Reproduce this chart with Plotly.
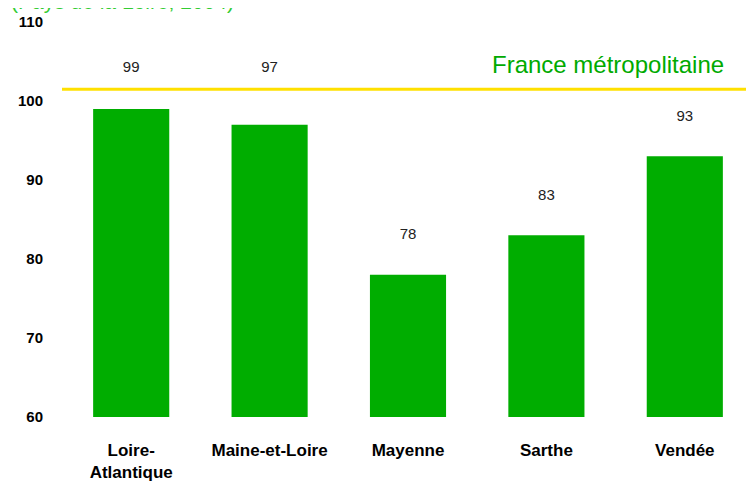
import plotly.graph_objects as go

categories = ["Loire-<br>Atlantique", "Maine-et-Loire", "Mayenne", "Sarthe", "Vendée"]
values = [99, 97, 78, 83, 93]
france_ref = 101.5
ref_label = "France métropolitaine"
title_text = "(Pays de la Loire, 2004)"
y_ticks = [60, 70, 80, 90, 100, 110]

green = "#00AD00"
label_offset = 5.0

# place value labels above the bars; labels that would touch the reference line go above it
label_y = []
for v in values:
    ly = v + label_offset
    if ly > france_ref - 1:
        ly = max(ly, france_ref + 2.7)
    label_y.append(ly)

fig = go.Figure()
fig.add_trace(go.Bar(
    x=categories, y=[v - 60 for v in values], base=60,
    marker=dict(color=green, line=dict(width=0)),
    width=0.55, hoverinfo="skip",
))
fig.add_trace(go.Scatter(
    x=categories, y=label_y,
    mode="text", text=[str(v) for v in values],
    textfont=dict(family="Liberation Sans, Arial", size=15, color="#222222"),
    hoverinfo="skip",
))
fig.add_shape(type="line", xref="paper", yref="y", x0=0, x1=1,
              y0=france_ref, y1=france_ref,
              line=dict(color="#FFE000", width=3))
fig.add_annotation(xref="paper", yref="y", x=1, y=france_ref,
                   xanchor="right", yanchor="bottom", xshift=-28, yshift=9,
                   text=ref_label, showarrow=False,
                   font=dict(family="Liberation Sans, Arial", size=24, color="#00AA00"))
fig.add_annotation(xref="paper", yref="paper", x=-0.0759, y=1.0173,
                   xanchor="left", yanchor="bottom",
                   text=title_text, showarrow=False,
                   font=dict(family="Liberation Sans, Arial", size=21, color="#33CC33"))

fig.update_layout(
    width=746, height=475,
    margin=dict(l=54, r=0, t=14, b=66),
    paper_bgcolor="white", plot_bgcolor="white",
    showlegend=False, bargap=0.45,
    xaxis=dict(range=[-0.5, 4.5], showgrid=False, showline=False, zeroline=False,
               ticks="", ticklabelstandoff=21, automargin=False,
               tickfont=dict(family="Liberation Sans, Arial", size=17, color="black", weight="bold")),
    yaxis=dict(range=[60, 110], tickvals=y_ticks, showgrid=False, showline=False,
               zeroline=False, ticks="", ticklabelstandoff=18, automargin=False,
               tickfont=dict(family="Liberation Sans, Arial", size=15, color="black", weight="bold")),
)
fig.write_html("out.html")
